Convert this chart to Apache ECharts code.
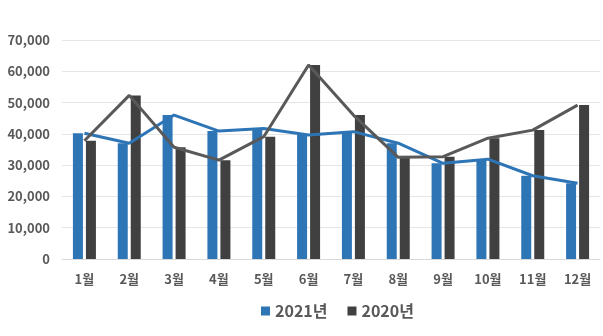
<!DOCTYPE html>
<html><head><meta charset="utf-8">
<script src="https://cdn.jsdelivr.net/npm/echarts@6/dist/echarts.min.js"></script>
<style>html,body{margin:0;padding:0;background:#fff}#c{width:603px;height:336px}</style>
</head><body><div id="c"></div>
<script>
const categories = ['1월','2월','3월','4월','5월','6월','7월','8월','9월','10월','11월','12월'];
const values2021 = [40200, 37000, 46000, 40900, 41700, 39600, 40700, 37000, 30600, 31900, 26600, 24200];
const values2020 = [37800, 52300, 35700, 31600, 39100, 62000, 46000, 32500, 32700, 38600, 41200, 49200];
const yTicks = [0, 10000, 20000, 30000, 40000, 50000, 60000, 70000];

const font = "'Noto Sans CJK KR', 'Noto Sans', sans-serif";
const blue = '#2e75b6', dark = '#404040', darkLine = '#595959';
const chart = echarts.init(document.getElementById('c'), null, {renderer:'canvas'});
chart.setOption({
  animation: false,
  grid: {left: 62, right: 3, top: 40, bottom: 77},
  legend: {
    data: ['2021년','2020년'], bottom: 12, left: 256, itemWidth: 9, itemHeight: 9, itemGap: 20,
    icon: 'rect',
    textStyle: {fontFamily: font, fontWeight: 'bold', fontSize: 16, color: '#595959'}
  },
  xAxis: {
    type: 'category', data: categories,
    axisLine: {lineStyle: {color: '#d9d9d9'}}, axisTick: {show: false},
    axisLabel: {fontFamily: font, fontWeight: 'bold', fontSize: 13, color: '#595959', margin: 14}
  },
  yAxis: {
    type: 'value', min: yTicks[0], max: yTicks[yTicks.length-1], interval: 10000,
    axisLine: {show: false}, axisTick: {show: false},
    splitLine: {lineStyle: {color: '#e6e6e6'}},
    axisLabel: {fontFamily: font, fontWeight: 'bold', fontSize: 13, color: '#595959', margin: 12,
      formatter: v => v.toLocaleString('en-US')}
  },
  series: [
    {name: '2021년', type: 'bar', data: values2021, barWidth: 10, barGap: '30%', itemStyle: {color: blue}},
    {name: '2020년', type: 'bar', data: values2020, barWidth: 10, barGap: '30%', itemStyle: {color: dark}},
    {name: '2021 line', type: 'line', data: values2021, showSymbol: false, symbol: 'none', lineStyle: {color: blue, width: 3}, itemStyle: {color: blue}, z: 5},
    {name: '2020 line', type: 'line', data: values2020, showSymbol: false, symbol: 'none', lineStyle: {color: darkLine, width: 3}, itemStyle: {color: darkLine}, z: 5}
  ]
});
</script></body></html>
